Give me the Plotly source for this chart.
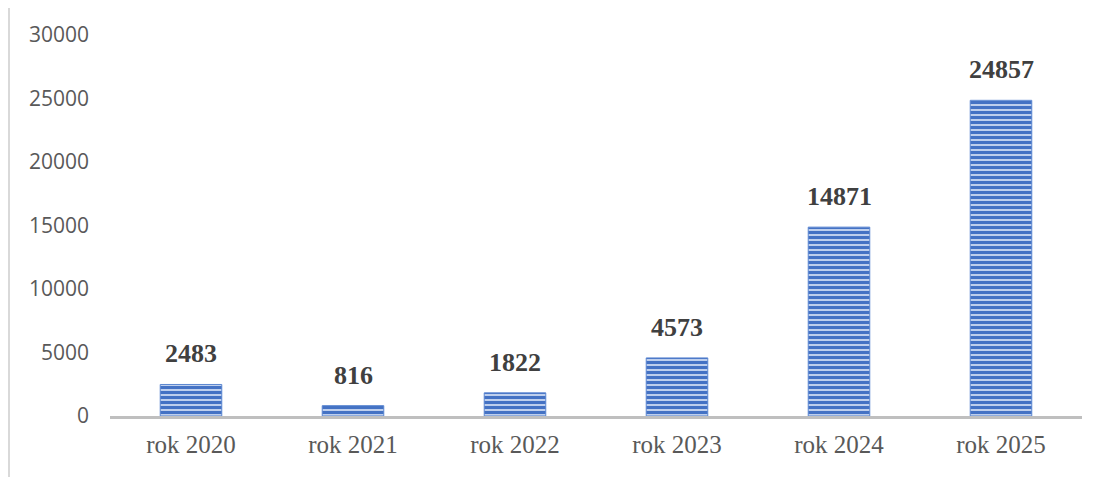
import plotly.graph_objects as go

categories = ["rok 2020", "rok 2021", "rok 2022", "rok 2023", "rok 2024", "rok 2025"]
values = [2483, 816, 1822, 4573, 14871, 24857]
y_ticks = [0, 5000, 10000, 15000, 20000, 25000, 30000]

W, H = 1100, 477
OFF = 8  # page body margin
L, R, T, B = 110 - OFF, 18 + OFF, 35 - OFF, 61 + OFF
pw, ph = W - L - R, H - T - B

fig = go.Figure(go.Bar(
    x=categories, y=values,
    marker=dict(
        color="#6d93d6",
        line=dict(color="#5b86d0", width=1),
        pattern=dict(shape="-", fgcolor="#4472c4", bgcolor="#cfdcf3", size=5, solidity=0.65,
                     fgopacity=1),
    ),
    width=0.38,
))

for c, v in zip(categories, values):
    fig.add_annotation(
        x=c, y=v, text=f"<b>{v}</b>", showarrow=False,
        yanchor="bottom", yshift=14,
        font=dict(family="Liberation Serif", size=26, color="#404040"),
    )

fig.update_layout(
    width=W, height=H,
    margin=dict(l=L, r=R, t=T, b=B, autoexpand=False),
    paper_bgcolor="white", plot_bgcolor="white",
    showlegend=False,
    xaxis=dict(
        showgrid=False, showline=True, linecolor="#bfbfbf", linewidth=3,
        ticks="", tickfont=dict(family="Liberation Serif", size=25, color="#595959"),
        ticklabelstandoff=4,
    ),
    yaxis=dict(
        range=[0, 30000], tickvals=y_ticks, ticktext=[str(v) for v in y_ticks],
        showgrid=False, zeroline=False, showline=False, ticks="",
        tickfont=dict(family="Open Sans", size=21, color="#595959"),
        ticklabelstandoff=20,
    ),
    shapes=[
        dict(type="line", xref="paper", yref="paper",
             x0=(9 - OFF - L) / pw, x1=(9 - OFF - L) / pw,
             y0=1 + (T - (5 - OFF)) / ph, y1=-(B + 20) / ph,
             line=dict(color="#d9d9d9", width=2)),
        dict(type="line", xref="paper", yref="paper",
             x0=(9 - OFF - L) / pw, x1=(W + 20 - L) / pw,
             y0=1 + (T - (5 - OFF)) / ph, y1=1 + (T - (5 - OFF)) / ph,
             line=dict(color="#d9d9d9", width=2)),
    ],
)

fig.write_html("out.html")
